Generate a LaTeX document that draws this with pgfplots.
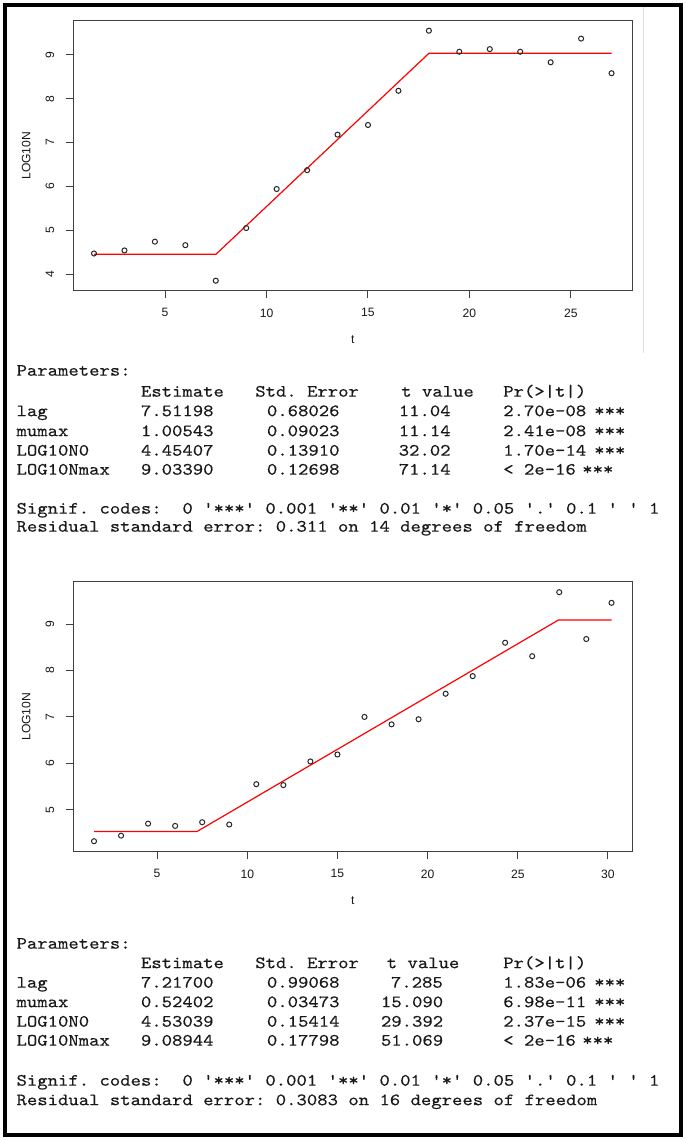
\documentclass[border=0pt]{standalone}
\usepackage{fontspec}
\setmonofont[FakeStretch=1.143, FakeBold=0.3]{lmmono10-regular.otf}
\newfontfamily\plotfont{Liberation Sans}
\usepackage{pgfplots}
\pgfplotsset{compat=1.18}
\pgfplotsset{
  rplot/.style={
    scale only axis, width=419.2pt, height=202.5pt,
    axis line style={black!75, line width=0.75pt},
    tick align=outside, xtick pos=bottom, ytick pos=left,
    major tick length=5.25pt,
    every tick/.style={black!75, line width=0.75pt},
    tick label style={font=\plotfont\fontsize{9.1pt}{11pt}\selectfont, text=black!90},
    /pgf/number format/assume math mode=true,
    yticklabel style={rotate=90, anchor=south},
    xticklabel shift=4.6pt, yticklabel shift=5.6pt,
    xlabel={t}, ylabel={LOG10N},
    every axis x label/.style={at={(axis description cs:0.5,-0.1815)}, anchor=center, font=\plotfont\fontsize{9.1pt}{11pt}\selectfont, text=black!90},
    every axis y label/.style={at={(axis description cs:-0.0841,0.5)}, anchor=center, rotate=90, font=\plotfont\fontsize{9.1pt}{11pt}\selectfont, text=black!90},
  },
  pts/.style={only marks, mark=o, mark size=1.9pt, mark options={black!85, line width=0.75pt}},
  fit/.style={red, line width=0.9pt, no marks},
}
\begin{document}
\begin{tikzpicture}[x=0.75pt, y=0.75pt,
  txt/.style={anchor=mid west, inner sep=0pt, font=\ttfamily\frenchspacing\fontsize{12.96pt}{15pt}\selectfont, text=black!90}]
\path[use as bounding box] (0,0) rectangle (686,1140);
\draw[black, line width=2.6pt] (5,5) rectangle (681,1135);
\draw[black!12, line width=0.75pt] (643,1140-7) -- (643,1140-353);

% ---------- plot 1 ----------
\begin{axis}[rplot, at={(54.975pt,636.975pt)}, anchor=south west,
  xmin=0.48, xmax=28.02, ymin=3.622, ymax=9.778,
  xtick={5,10,15,20,25}, ytick={4,5,6,7,8,9}]
\addplot[pts] coordinates {(1.5,4.47) (3,4.54) (4.5,4.74) (6,4.66) (7.5,3.85) (9,5.05) (10.5,5.94) (12,6.37) (13.5,7.18) (15,7.40) (16.5,8.18) (18,9.55) (19.5,9.07) (21,9.13) (22.5,9.07) (24,8.83) (25.5,9.37) (27,8.58)};
\addplot[fit] coordinates {(1.5,4.454) (7.512,4.454) (18.0,9.034) (27,9.034)};
\end{axis}

% ---------- plot 2 ----------
\begin{axis}[rplot, at={(54.975pt,216.225pt)}, anchor=south west,
  xmin=0.352, xmax=31.348, ymin=4.094, ymax=9.916,
  xtick={5,10,15,20,25,30}, ytick={5,6,7,8,9}]
\addplot[pts] coordinates {(1.5,4.32) (3,4.44) (4.5,4.70) (6,4.65) (7.5,4.73) (9,4.68) (10.5,5.55) (12,5.53) (13.5,6.04) (15,6.19) (16.5,7.00) (18,6.84) (19.5,6.95) (21,7.50) (22.5,7.88) (24.3,8.60) (25.8,8.31) (27.3,9.69) (28.8,8.68) (30.2,9.46)};
\addplot[fit] coordinates {(1.5,4.530) (7.217,4.530) (27.25,9.089) (30.2,9.089)};
\end{axis}

% ---------- text block 1 ----------
\node[txt] at (16.3,1140-372.8) {Parameters:};
\node[txt] at (140.7,1140-393.8) {Estimate};
\node[txt] at (255,1140-393.8) {Std. Error};
\node[txt] at (401,1140-393.8) {t value};
\node[txt] at (503,1140-393.8) {Pr(>|t|)};
\node[txt] at (16.3,1140-413.3) {lag};
\node[txt] at (16.3,1140-433.3) {mumax};
\node[txt] at (16.3,1140-452.8) {LOG10N0};
\node[txt] at (16.3,1140-471.8) {LOG10Nmax};
\node[txt] at (140.7,1140-413.3) {7.51198};
\node[txt] at (140.7,1140-433.3) {1.00543};
\node[txt] at (140.7,1140-452.8) {4.45407};
\node[txt] at (140.7,1140-471.8) {9.03390};
\node[txt] at (266.7,1140-413.3) {0.68026};
\node[txt] at (266.7,1140-433.3) {0.09023};
\node[txt] at (266.7,1140-452.8) {0.13910};
\node[txt] at (266.7,1140-471.8) {0.12698};
\node[txt] at (398.5,1140-413.3) {11.04};
\node[txt] at (398.5,1140-433.3) {11.14};
\node[txt] at (398.5,1140-452.8) {32.02};
\node[txt] at (398.5,1140-471.8) {71.14};
\node[txt] at (503,1140-413.3) {2.70e-08};
\node[txt] at (503,1140-433.3) {2.41e-08};
\node[txt] at (503,1140-452.8) {1.70e-14};
\node[txt] at (503,1140-471.8) {<~2e-16};
\node[txt] at (594,1140-413.3) {***};
\node[txt] at (594,1140-433.3) {***};
\node[txt] at (594,1140-452.8) {***};
\node[txt] at (582,1140-471.8) {***};
\node[txt] at (16.3,1140-510.8) {Signif. codes:~~0 '***' 0.001 '**' 0.01 '*' 0.05 '.' 0.1 '~' 1};
\node[txt] at (16.3,1140-528.8) {Residual standard error: 0.311 on 14 degrees of freedom};

% ---------- text block 2 ----------
\node[txt] at (16.3,1140-945.8) {Parameters:};
\node[txt] at (140.7,1140-965.3) {Estimate};
\node[txt] at (255,1140-965.3) {Std. Error};
\node[txt] at (386.5,1140-965.3) {t value};
\node[txt] at (503,1140-965.3) {Pr(>|t|)};
\node[txt] at (16.3,1140-984.8) {lag};
\node[txt] at (16.3,1140-1004.3) {mumax};
\node[txt] at (16.3,1140-1023.8) {LOG10N0};
\node[txt] at (16.3,1140-1042.8) {LOG10Nmax};
\node[txt] at (140.7,1140-984.8) {7.21700};
\node[txt] at (140.7,1140-1004.3) {0.52402};
\node[txt] at (140.7,1140-1023.8) {4.53039};
\node[txt] at (140.7,1140-1042.8) {9.08944};
\node[txt] at (266.7,1140-984.8) {0.99068};
\node[txt] at (266.7,1140-1004.3) {0.03473};
\node[txt] at (266.7,1140-1023.8) {0.15414};
\node[txt] at (266.7,1140-1042.8) {0.17798};
\node[txt] at (390.7,1140-984.8) {7.285};
\node[txt] at (380.7,1140-1004.3) {15.090};
\node[txt] at (380.7,1140-1023.8) {29.392};
\node[txt] at (380.7,1140-1042.8) {51.069};
\node[txt] at (503,1140-984.8) {1.83e-06};
\node[txt] at (503,1140-1004.3) {6.98e-11};
\node[txt] at (503,1140-1023.8) {2.37e-15};
\node[txt] at (503,1140-1042.8) {<~2e-16};
\node[txt] at (594,1140-984.8) {***};
\node[txt] at (594,1140-1004.3) {***};
\node[txt] at (594,1140-1023.8) {***};
\node[txt] at (582,1140-1042.8) {***};
\node[txt] at (16.3,1140-1082.8) {Signif. codes:~~0 '***' 0.001 '**' 0.01 '*' 0.05 '.' 0.1 '~' 1};
\node[txt] at (16.3,1140-1102.3) {Residual standard error: 0.3083 on 16 degrees of freedom};
\end{tikzpicture}
\end{document}
